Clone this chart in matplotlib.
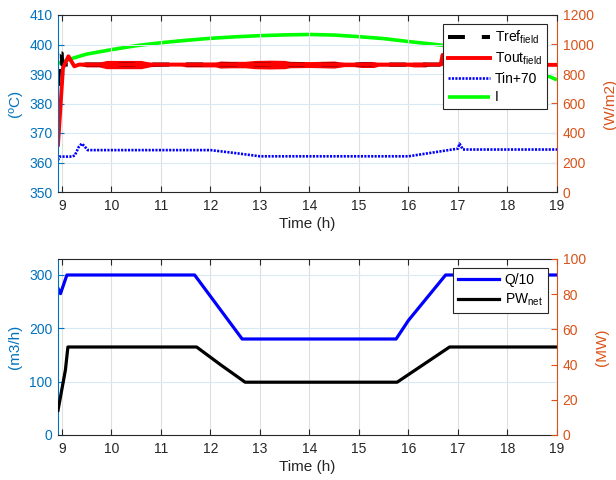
import matplotlib
matplotlib.use("Agg")
import matplotlib.pyplot as plt
import numpy as np

plt.rcParams['font.family'] = ['Liberation Sans', 'DejaVu Sans']
plt.rcParams['mathtext.fontset'] = 'custom'
plt.rcParams['mathtext.rm'] = 'Liberation Sans'
plt.rcParams['mathtext.it'] = 'Liberation Sans'
plt.rcParams['mathtext.default'] = 'regular'

# ---------------- data (top) ----------------
tref_t = [8.92, 8.965, 8.995, 9.005, 19.0]
tref_v = [386.0, 397.0, 397.0, 393.2, 393.2]

tout_t = [8.92, 9.02, 9.13, 9.25, 9.35, 9.5, 9.75, 9.9, 10.2, 10.6, 10.8, 11.1, 11.4,
          11.5, 11.8, 12.1, 12.2, 12.4, 12.7, 12.9, 13.2, 13.5, 13.6, 14.0, 14.5,
          14.7, 14.9, 15.05, 15.3, 15.4, 15.7, 16.0, 16.1, 16.35, 16.4, 16.65, 16.69,
          16.72, 16.75, 17.5, 18.5, 19.0]
tout_v = [366.0, 392.0, 396.0, 392.6, 393.2, 393.2, 393.2, 393.2, 393.2, 393.2, 393.2, 393.2, 393.2,
          393.2, 393.2, 393.2, 393.2, 393.2, 393.2, 393.2, 393.2, 393.2, 393.2, 393.2, 393.2,
          393.2, 393.2, 393.2, 393.2, 393.2, 393.2, 393.2, 393.2, 393.2, 393.2, 393.2, 396.5,
          393.1, 393.1, 393.1, 393.1, 393.1]
tout_noise = [0.0, 0.0, 0.0, 0.0, 0.3, 0.8, 0.8, 1.4, 1.4, 1.4, 0.7, 0.4, 0.4,
              0.8, 0.8, 0.8, 1.2, 1.1, 1.1, 1.4, 1.5, 1.4, 1.1, 1.0, 1.2,
              0.7, 0.7, 1.0, 1.0, 0.5, 0.5, 0.5, 0.8, 0.8, 0.4, 0.4, 0.0,
              0.0, 0.2, 0.2, 0.2, 0.2]

tin_t = [8.92, 8.95, 9.2, 9.26, 9.34, 9.4, 9.45, 9.52, 12.0, 12.5, 13.0, 16.0, 16.5, 17.0,
         17.03, 17.1, 19.0]
tin_v = [360.8, 362.0, 362.0, 362.4, 365.3, 366.4, 365.6, 364.2, 364.2, 363.2, 362.1, 362.1,
         363.4, 364.7, 366.4, 364.4, 364.4]

irr_t = [8.92, 9.2, 9.5, 10.0, 10.5, 11.0, 11.5, 12.0, 12.5, 13.0, 13.5, 14.0, 14.5,
         15.0, 15.5, 16.0, 16.5, 16.7, 17.0, 17.5, 18.0, 18.5, 18.7, 19.0]
irr_v = [872, 905, 935, 965, 992, 1012, 1028, 1042, 1052, 1060, 1065, 1068, 1064,
         1053, 1040, 1020, 1002, 994, 975, 945, 905, 850, 805, 760]

# ---------------- data (bottom) ----------------
q_t = [8.92, 8.97, 9.1, 11.68, 12.64, 15.75, 16.0, 16.75, 19.0]
q_v = [275, 265, 300, 300, 180, 180, 215, 300, 300]

pw_t = [8.92, 9.07, 9.12, 11.72, 12.2, 12.7, 15.77, 16.3, 16.83, 19.0]
pw_v = [14.0, 37.0, 50.0, 50.0, 40.0, 30.0, 30.0, 40.0, 50.0, 50.0]

xticks = [9, 10, 11, 12, 13, 14, 15, 16, 17, 18, 19]

# ---------------- styles ----------------
BLUE = '#0072BD'
ORANGE = '#D95319'
DARK = '#262626'
XGRID = '#DFDFDF'
YGRID = '#D9EAF5'
FS = 10

fig = plt.figure(figsize=(6.16, 4.8), dpi=100)


def style_axes(ax, ax2, ylim_l, yticks_l, ylim_r, yticks_r, ylab_l, ylab_r):
    ax.set_xlim(8.92, 19)
    ax.set_xticks(xticks)
    ax.set_ylim(*ylim_l)
    ax.set_yticks(yticks_l)
    ax2.set_ylim(*ylim_r)
    ax2.set_yticks(yticks_r)
    ax.set_axisbelow(True)
    ax.grid(True, axis='x', color=XGRID, lw=0.8)
    ax.grid(True, axis='y', color=YGRID, lw=0.8)
    for s in ['top', 'bottom']:
        ax.spines[s].set_color(DARK)
        ax.spines[s].set_linewidth(0.8)
        ax2.spines[s].set_visible(False)
    ax.spines['left'].set_color(BLUE)
    ax.spines['left'].set_linewidth(0.8)
    ax.spines['right'].set_visible(False)
    ax2.spines['left'].set_visible(False)
    ax2.spines['right'].set_color(ORANGE)
    ax2.spines['right'].set_linewidth(0.8)
    ax.tick_params(axis='x', direction='in', top=True, bottom=True, length=4,
                   width=0.8, color=DARK, labelcolor=DARK, labelsize=FS, pad=5)
    ax.tick_params(axis='y', direction='in', left=True, right=False, length=4,
                   width=0.8, color=BLUE, labelcolor=BLUE, labelsize=FS, pad=4)
    ax2.tick_params(axis='y', direction='in', right=True, length=4,
                    width=0.8, color=ORANGE, labelcolor=ORANGE, labelsize=FS, pad=4)
    ax.set_ylabel(ylab_l, color=BLUE, fontsize=11, labelpad=5)
    ax2.set_ylabel(ylab_r, color=ORANGE, fontsize=11, labelpad=7)
    ax.set_xlabel('Time (h)', color=DARK, fontsize=11, labelpad=3)
    ax.patch.set_visible(False)


# ---------------- top ----------------
ax = fig.add_axes([58 / 616, 1 - 192 / 480, 499 / 616, 177 / 480])
ax2 = ax.twinx()
style_axes(ax, ax2, (350, 410), [350, 360, 370, 380, 390, 400, 410],
           (0, 1200), [0, 200, 400, 600, 800, 1000, 1200], '(ºC)', '(W/m2)')

l_irr, = ax2.plot(irr_t, irr_v, color='#00FF00', lw=2.6, solid_capstyle='butt')
l_tref, = ax.plot(tref_t, tref_v, color='black', lw=2.9, dashes=(4.2, 4.2))
tv = np.array(tout_v)
tn = np.array(tout_noise)
ax.fill_between(tout_t, tv - tn, tv + tn, color='red', lw=0)
l_tout, = ax.plot(tout_t, tout_v, color='red', lw=2.8)
l_tin, = ax.plot(tin_t, tin_v, color='#0000FF', lw=1.9, dashes=(0.8, 0.5))

leg = ax.legend([l_tref, l_tout, l_tin, l_irr],
                [r'Tref$_{field}$', r'Tout$_{field}$', 'Tin+70', 'I'],
                loc='upper left', bbox_to_anchor=((443 - 58) / 499, (192 - 24) / 177),
                borderaxespad=0, fontsize=FS, handlelength=3.0, handletextpad=0.4,
                labelspacing=0.33, borderpad=0.35, fancybox=False, framealpha=1,
                edgecolor=DARK)
leg.get_frame().set_linewidth(0.8)
leg.set_zorder(10)
ax.set_zorder(3)
ax2.set_zorder(1)

# ---------------- bottom ----------------
bx = fig.add_axes([58 / 616, 1 - 435 / 480, 499 / 616, 176 / 480])
bx2 = bx.twinx()
style_axes(bx, bx2, (0, 330), [0, 100, 200, 300], (0, 100),
           [0, 20, 40, 60, 80, 100], '(m3/h)', '(MW)')
l_q, = bx.plot(q_t, q_v, color='#0000FF', lw=2.3)
l_pw, = bx2.plot(pw_t, pw_v, color='black', lw=2.3)
bx.set_zorder(1)
bx2.set_zorder(2)
bx2.patch.set_visible(False)
leg2 = bx2.legend([l_q, l_pw], ['Q/10', r'PW$_{net}$'],
                  loc='upper left', bbox_to_anchor=((452.7 - 58) / 499, (435 - 268.3) / 176),
                  borderaxespad=0, fontsize=FS, handlelength=3.0, handletextpad=0.4,
                  labelspacing=0.33, borderpad=0.35, fancybox=False, framealpha=1,
                  edgecolor=DARK)
leg2.get_frame().set_linewidth(0.8)

fig.savefig('out.png', dpi=100)
